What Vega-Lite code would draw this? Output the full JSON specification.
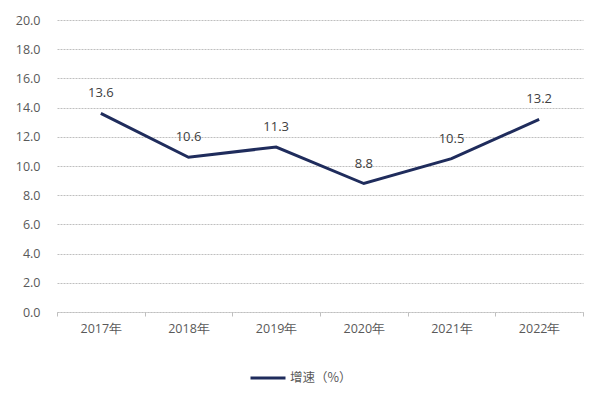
{
  "$schema": "https://vega.github.io/schema/vega-lite/v6.json",
  "width": 526,
  "height": 292,
  "autosize": {"type": "none"},
  "padding": {"left": 57, "top": 20, "right": 19, "bottom": 87},
  "background": "white",
  "data": {
    "values": [
      {"year": "2017年", "value": 13.6, "series": "增速（%）"},
      {"year": "2018年", "value": 10.6, "series": "增速（%）"},
      {"year": "2019年", "value": 11.3, "series": "增速（%）"},
      {"year": "2020年", "value": 8.8, "series": "增速（%）"},
      {"year": "2021年", "value": 10.5, "series": "增速（%）"},
      {"year": "2022年", "value": 13.2, "series": "增速（%）"}
    ]
  },
  "encoding": {
    "x": {
      "field": "year", "type": "ordinal", "title": null,
      "scale": {"paddingInner": 0, "paddingOuter": 0},
      "axis": {
        "labelAngle": 0, "labelFont": "Open Sans", "labelFontSize": 12.5, "labelColor": "#595959",
        "domainColor": "#BFBFBF", "domainDash": [2, 1], "domainWidth": 1,
        "ticks": true, "tickBand": "extent", "tickSize": 4, "tickColor": "#BFBFBF",
        "labelPadding": 6, "grid": false
      }
    },
    "y": {
      "field": "value", "type": "quantitative", "title": null,
      "scale": {"domain": [0, 20], "nice": false},
      "axis": {
        "values": [0, 2, 4, 6, 8, 10, 12, 14, 16, 18, 20],
        "format": ".1f",
        "labelFont": "Open Sans", "labelFontSize": 12.5, "labelColor": "#595959",
        "domain": false, "ticks": false, "labelPadding": 17,
        "grid": true, "gridColor": "#BFBFBF", "gridDash": [2, 1], "gridWidth": 1
      }
    }
  },
  "layer": [
    {
      "mark": {"type": "line", "strokeWidth": 3, "strokeJoin": "miter"},
      "encoding": {
        "color": {
          "field": "series", "type": "nominal",
          "scale": {"range": ["#1F2C5C"]},
          "legend": {
            "title": null, "orient": "none", "legendX": 192, "legendY": 339, "direction": "horizontal",
            "symbolType": "stroke", "symbolSize": 1225, "symbolStrokeWidth": 3,
            "labelFont": "Noto Sans CJK SC", "labelFontSize": 12.5, "labelColor": "#595959",
            "labelOffset": 3
          }
        }
      }
    },
    {
      "mark": {"type": "text", "dy": -20, "font": "Open Sans", "fontSize": 13, "color": "#404040"},
      "encoding": {
        "text": {"field": "value", "type": "quantitative", "format": ".1f"}
      }
    }
  ],
  "config": {"view": {"stroke": null}}
}
